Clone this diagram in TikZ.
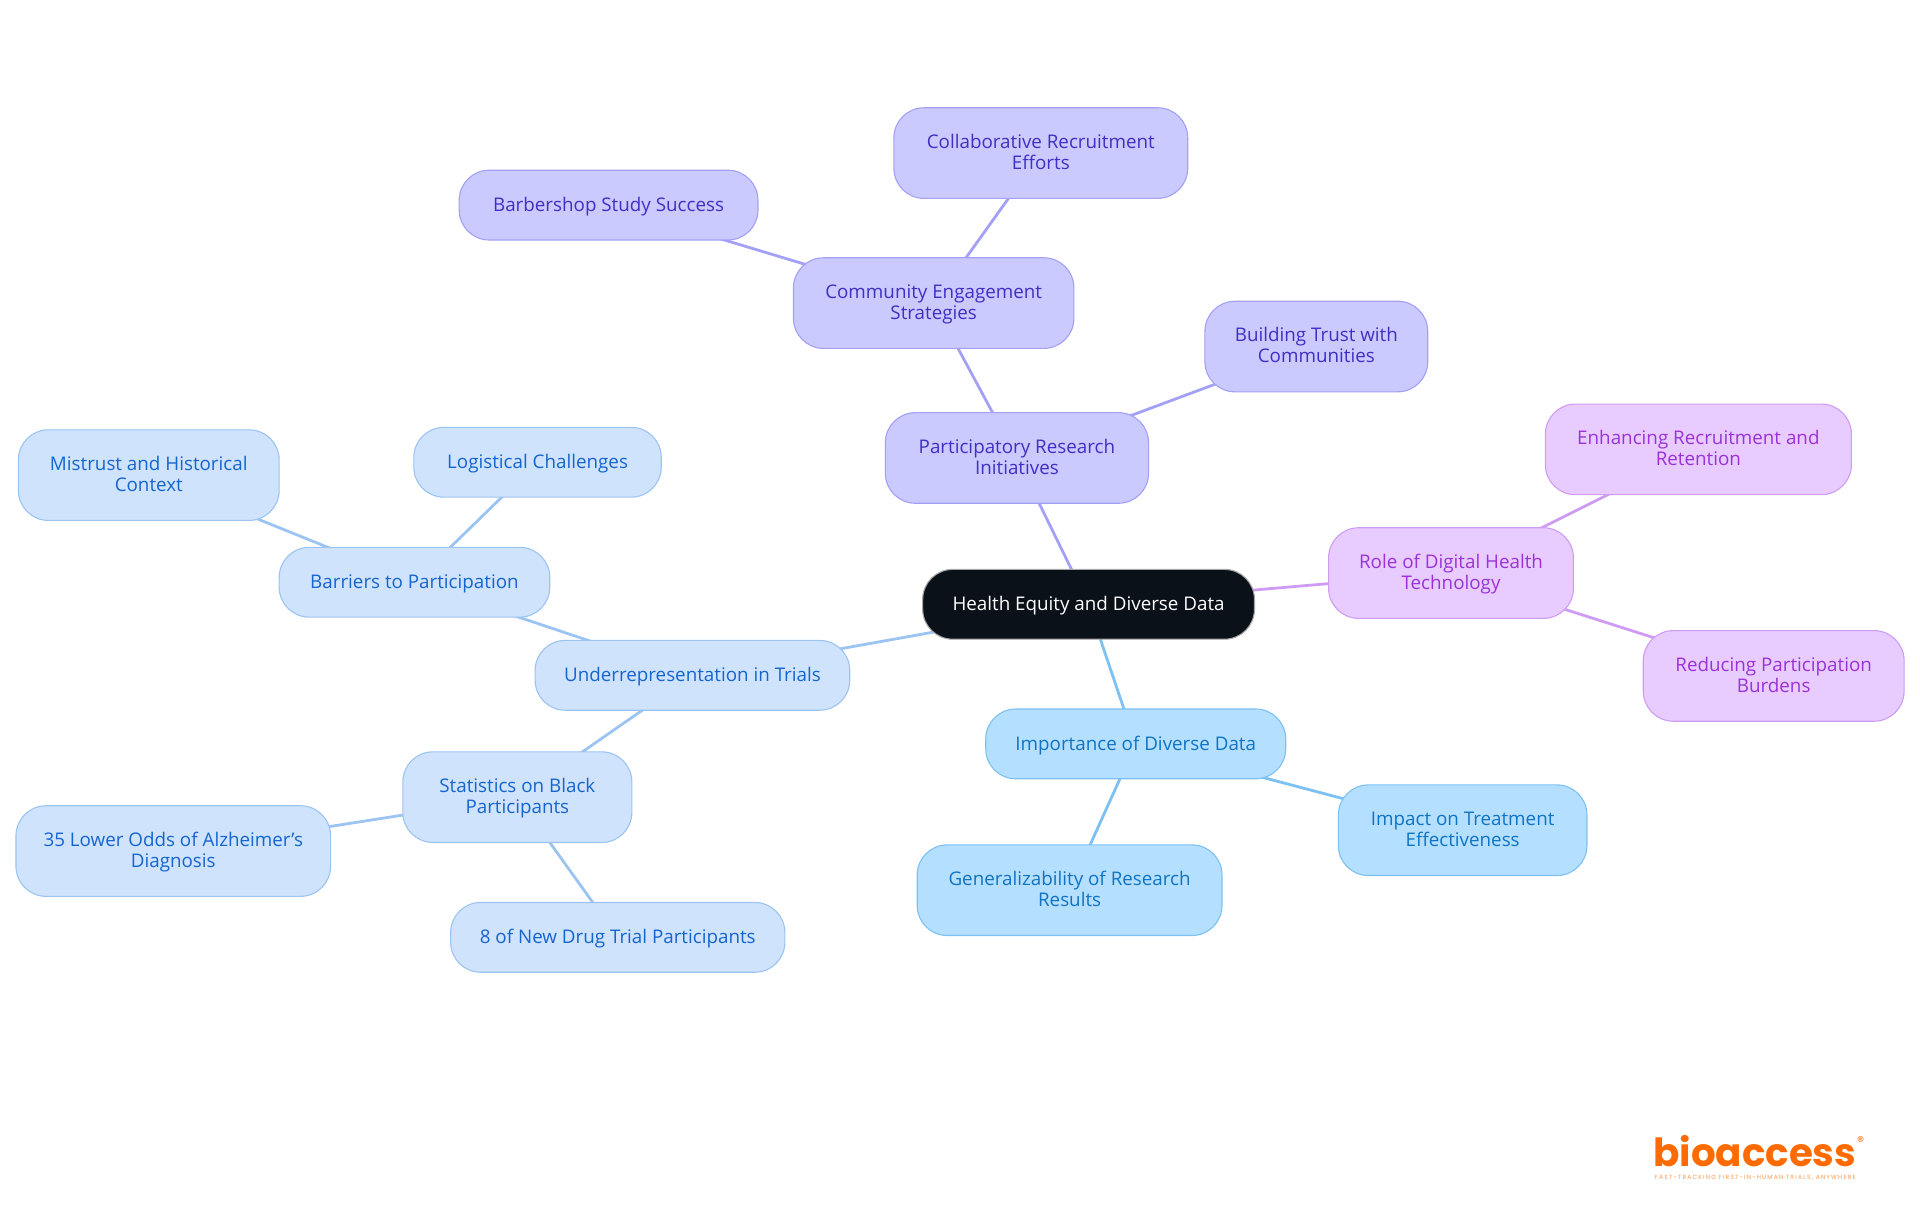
\documentclass[tikz,border=0pt]{standalone}
\usepackage{fontspec}
\setmainfont{Open Sans}
\newfontfamily\logofont{Poppins}
\newfontfamily\tagfont[LetterSpace=20]{Poppins}
\usepackage{tikz}
\usetikzlibrary{backgrounds}
\definecolor{rootfill}{HTML}{0B1119}
\definecolor{indigofill}{HTML}{CACAFF}
\definecolor{indigoline}{HTML}{A3A0F5}
\definecolor{indigotext}{HTML}{3F30C4}
\definecolor{violetfill}{HTML}{E8CCFF}
\definecolor{violetline}{HTML}{CE9CF5}
\definecolor{violettext}{HTML}{9A32D8}
\definecolor{skyfill}{HTML}{B5DFFF}
\definecolor{skyline}{HTML}{7DC1F2}
\definecolor{skytext}{HTML}{0F74C4}
\definecolor{bluefill}{HTML}{CFE3FC}
\definecolor{blueline}{HTML}{9CC4F2}
\definecolor{bluetext}{HTML}{1565D0}
\definecolor{logoorange}{HTML}{FF6B00}

\begin{document}
\begin{tikzpicture}[x=0.61224pt,y=-0.61224pt]

 \tikzstyle{topic}=[rectangle,rounded corners=15pt,inner sep=0pt,line width=0.55pt,
align=center,font=\fontsize{9.4}{10.5}\selectfont,minimum height=45.3pt,
text height=20.1pt,text depth=4pt]
 \tikzstyle{oneline}=[minimum height=34.9pt,text height=8.4pt,text depth=2.2pt]
 \tikzstyle{rootnode}=[topic,oneline,draw=gray!70,fill=rootfill,text=white]
 \tikzstyle{indigonode}=[topic,draw=indigoline,fill=indigofill,text=indigotext]
 \tikzstyle{violetnode}=[topic,draw=violetline,fill=violetfill,text=violettext]
 \tikzstyle{skynode}=[topic,draw=skyline,fill=skyfill,text=skytext]
 \tikzstyle{bluenode}=[topic,draw=blueline,fill=bluefill,text=bluetext]
 \tikzstyle{branch}=[line width=1.4pt]

\useasboundingbox (0,0) rectangle (1568,992.2);

% Root
\node[rootnode,minimum width=165.9pt] (N_ROOT) at (889,493.5) {Health Equity and Diverse Data};

% Indigo branch
\node[indigonode,minimum width=131.6pt] (N_PART) at (830.5,374) {Participatory Research\\Initiatives};
\node[indigonode,minimum width=140.2pt] (N_COMM) at (762.5,247.5) {Community Engagement\\Strategies};
\node[indigonode,oneline,minimum width=149.4pt] (N_BARB) at (497,167.5) {Barbershop Study Success};
\node[indigonode,minimum width=146.9pt] (N_COLL) at (850,125) {Collaborative Recruitment\\Efforts};
\node[indigonode,minimum width=111.4pt] (N_TRUST) at (1075,283) {Building Trust with\\Communities};

% Violet branch
\node[violetnode,minimum width=122.4pt] (N_DIGI) at (1185,468) {Role of Digital Health\\Technology};
\node[violetnode,minimum width=153pt] (N_ENH) at (1387,367) {Enhancing Recruitment and\\Retention};
\node[violetnode,minimum width=130.4pt] (N_RED) at (1448.5,552) {Reducing Participation\\Burdens};

% Sky branch
\node[skynode,oneline,minimum width=150pt] (N_IMPO) at (927.5,607.5) {Importance of Diverse Data};
\node[skynode,minimum width=124.3pt] (N_IMPA) at (1194.5,678) {Impact on Treatment\\Effectiveness};
\node[skynode,minimum width=152.4pt] (N_GEN) at (873.5,727) {Generalizability of Research\\Results};

% Blue branch
\node[bluenode,oneline,minimum width=157.3pt] (N_UND) at (565.5,551.5) {Underrepresentation in Trials};
\node[bluenode,oneline,minimum width=135.3pt] (N_BARR) at (338.5,475.5) {Barriers to Participation};
\node[bluenode,minimum width=130.4pt] (N_MIST) at (121.5,388) {Mistrust and Historical\\Context};
\node[bluenode,oneline,minimum width=123.7pt] (N_LOG) at (439,377.5) {Logistical Challenges};
\node[bluenode,minimum width=114.5pt] (N_STAT) at (422.5,651) {Statistics on Black\\Participants};
\node[bluenode,minimum width=157.3pt] (N_ODDS) at (141.5,695) {35 Lower Odds of Alzheimer's\\Diagnosis};
\node[bluenode,oneline,minimum width=167.1pt] (N_NEW) at (504.5,765.5) {8 of New Drug Trial Participants};

% Branches
\begin{scope}[on background layer]
\draw[branch,indigoline] (N_ROOT.center)--(N_PART.center);
\draw[branch,indigoline] (N_PART.center)--(N_COMM.center);
\draw[branch,indigoline] (N_COMM.center)--(N_BARB.center);
\draw[branch,indigoline] (N_COMM.center)--(N_COLL.center);
\draw[branch,indigoline] (N_PART.center)--(N_TRUST.center);

\draw[branch,violetline] (N_ROOT.center)--(N_DIGI.center);
\draw[branch,violetline] (N_DIGI.center)--(N_ENH.center);
\draw[branch,violetline] (N_DIGI.center)--(N_RED.center);

\draw[branch,skyline] (N_ROOT.center)--(N_IMPO.center);
\draw[branch,skyline] (N_IMPO.center)--(N_IMPA.center);
\draw[branch,skyline] (N_IMPO.center)--(N_GEN.center);

\draw[branch,blueline] (N_ROOT.center)--(N_UND.center);
\draw[branch,blueline] (N_UND.center)--(N_BARR.center);
\draw[branch,blueline] (N_BARR.center)--(N_MIST.center);
\draw[branch,blueline] (N_BARR.center)--(N_LOG.center);
\draw[branch,blueline] (N_UND.center)--(N_STAT.center);
\draw[branch,blueline] (N_STAT.center)--(N_ODDS.center);
\draw[branch,blueline] (N_STAT.center)--(N_NEW.center);
\end{scope}

% Logo
\node[inner sep=0pt,text=logoorange,font=\logofont\bfseries\fontsize{19.4}{20}\selectfont,text height=15pt,text depth=0pt] (L_NAME) at (1433,940) {bioaccess};
\node[inner sep=0pt,text=logoorange,font=\logofont\fontsize{7}{7}\selectfont] (L_MARK) at (1519.5,932.5) {®};
\node[inner sep=0pt,text=logoorange!70,font=\tagfont\fontsize{3}{3}\selectfont] (L_TAG) at (1433.5,961.5) {FAST-TRACKING FIRST-IN-HUMAN TRIALS, ANYWHERE};

\end{tikzpicture}
\end{document}
